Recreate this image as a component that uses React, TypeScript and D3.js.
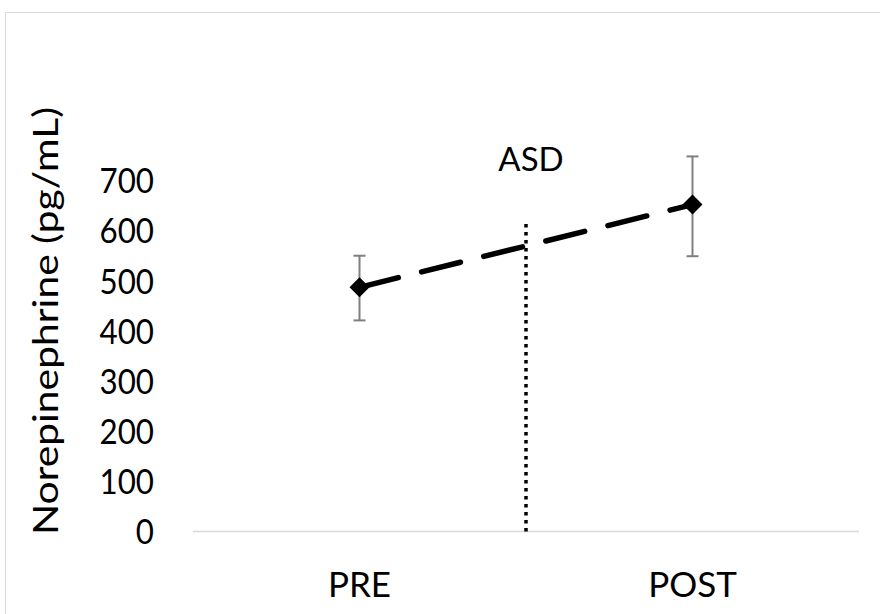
import React from "react";
import * as d3 from "d3";

const categories = ["PRE", "POST"];
const means = [487, 652];
const errUpper = [550, 748];
const errLower = [421, 549];
const yTicks = [0, 100, 200, 300, 400, 500, 600, 700];
const dividerTop = 622;
const dividerLabel = "ASD";
const yLabel = "Norepinephrine (pg/mL)";

const W = 880;
const H = 614;
const FONT = "Lato, Carlito, Calibri, sans-serif";

export default function App() {
  const left = 193;
  const right = 859;
  const x = d3.scaleBand().domain(categories).range([left, right]);
  const y = d3.scaleLinear().domain([0, 700]).range([531.5, 180.5]);
  const cx = (c: string) => (x(c) as number) + x.bandwidth() / 2;

  const line = d3
    .line<number>()
    .x((_, i) => cx(categories[i]))
    .y((d) => y(d));

  const divX = (left + right) / 2;

  return (
    <svg
      width={W}
      height={H}
      style={{ position: "absolute", left: 0, top: 0, background: "#fff" }}
    >
      <rect x={5.5} y={12.5} width={W + 10} height={H + 10} fill="#fff" stroke="#d9d9d9" strokeWidth={1} />
      <line x1={left} x2={right} y1={y(0)} y2={y(0)} stroke="#d9d9d9" strokeWidth={1.5} />
      {yTicks.map((t) => (
        <text
          key={t}
          transform={`translate(154, ${y(t)}) scale(0.95, 1.08)`}
          dy="0.36em"
          textAnchor="end"
          fontFamily={FONT}
          fontSize={33}
          fill="#000"
        >
          {t}
        </text>
      ))}
      <text
        transform={`translate(58, ${321}) rotate(-90)`}
        textAnchor="middle"
        fontFamily={FONT}
        fontSize={34}
        textLength={428}
        lengthAdjust="spacingAndGlyphs"
        fill="#000"
      >
        {yLabel}
      </text>
      {categories.map((c) => (
        <text
          key={c}
          x={cx(c)}
          y={597}
          textAnchor="middle"
          fontFamily={FONT}
          fontSize={35}
          fill="#000"
        >
          {c}
        </text>
      ))}
      <line
        x1={divX}
        x2={divX}
        y1={y(0)}
        y2={y(dividerTop)}
        stroke="#000"
        strokeWidth={3.5}
        strokeDasharray="3.5,4.5"
      />
      <text
        x={divX + 5}
        y={171}
        textAnchor="middle"
        fontFamily={FONT}
        fontSize={33}
        fill="#000"
      >
        {dividerLabel}
      </text>
      <path
        d={line(means) as string}
        fill="none"
        stroke="#000"
        strokeWidth={5.5}
        strokeLinecap="round"
        strokeDasharray="40,24"
      />
      {categories.map((c, i) => (
        <g key={c} stroke="#7f7f7f" strokeWidth={2}>
          <line x1={cx(c)} x2={cx(c)} y1={y(errUpper[i])} y2={y(errLower[i])} />
          <line x1={cx(c) - 6} x2={cx(c) + 6} y1={y(errUpper[i])} y2={y(errUpper[i])} />
          <line x1={cx(c) - 6} x2={cx(c) + 6} y1={y(errLower[i])} y2={y(errLower[i])} />
        </g>
      ))}
      {categories.map((c, i) => {
        const px = cx(c);
        const py = y(means[i]);
        const r = 10;
        return (
          <path
            key={c}
            d={`M${px},${py - r}L${px + r},${py}L${px},${py + r}L${px - r},${py}Z`}
            fill="#000"
          />
        );
      })}
    </svg>
  );
}
